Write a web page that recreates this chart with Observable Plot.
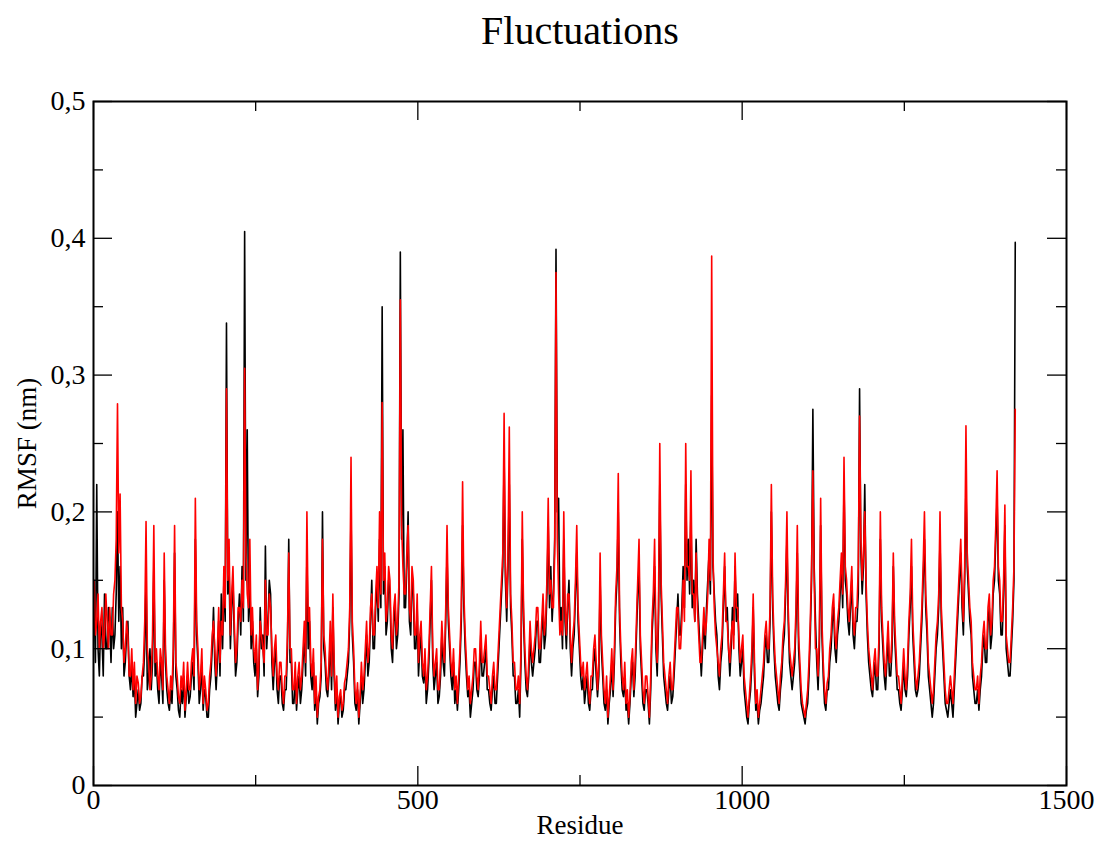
<!DOCTYPE html>
<html><head><meta charset="utf-8">
<script src="https://cdn.jsdelivr.net/npm/d3@7"></script>
<script src="https://cdn.jsdelivr.net/npm/@observablehq/plot@0.6"></script>
<style>body{margin:0;background:#fff}</style>
</head><body><div id="chart"></div>
<script>
// Residue numbering of the sampled points (every 2nd residue, starting at 1)
const residueStart = 1;
const residueStep = 2;

// RMSF (nm), black series
const rmsfBlack = [
.13,.09,.22,.10,.08,.12,.11,.08,.14,.10,.10,.13,.12,.09,.13,.10,.11,.14,.20,.12,
.16,.10,.13,.08,.09,.11,.12,.08,.07,.09,.065,.08,.05,.06,.07,.055,.06,.08,.08,.10,
.15,.07,.08,.10,.07,.09,.16,.08,.09,.07,.06,.09,.08,.06,.15,.09,.07,.06,.055,.07,
.06,.09,.17,.08,.07,.055,.05,.07,.06,.08,.05,.065,.08,.06,.065,.08,.09,.07,.18,.11,
.09,.06,.07,.09,.055,.07,.065,.05,.05,.07,.08,.10,.13,.09,.07,.09,.12,.08,.14,.10,
.15,.12,.338,.14,.16,.10,.13,.15,.11,.08,.09,.12,.14,.11,.16,.12,.405,.15,.26,.12,
.15,.10,.12,.09,.08,.10,.065,.08,.13,.10,.11,.08,.175,.10,.12,.15,.14,.09,.07,.09,
.10,.07,.06,.08,.08,.06,.055,.07,.07,.10,.18,.09,.09,.06,.06,.08,.055,.07,.08,.06,
.07,.09,.11,.08,.17,.10,.12,.08,.07,.09,.055,.07,.045,.06,.065,.08,.20,.10,.09,.07,
.065,.08,.11,.07,.13,.08,.055,.07,.045,.06,.065,.05,.055,.07,.07,.08,.09,.12,.20,.11,
.09,.06,.055,.07,.045,.06,.08,.06,.07,.09,.11,.08,.09,.12,.15,.10,.10,.13,.15,.12,
.18,.13,.35,.14,.16,.11,.12,.15,.14,.10,.09,.12,.13,.10,.11,.14,.39,.18,.26,.13,
.13,.16,.20,.12,.11,.15,.14,.10,.10,.13,.08,.10,.11,.08,.075,.09,.06,.07,.09,.12,
.15,.09,.07,.08,.09,.06,.065,.08,.11,.09,.08,.12,.17,.12,.10,.08,.07,.09,.06,.07,
.055,.07,.09,.12,.19,.13,.10,.08,.065,.07,.05,.06,.07,.09,.09,.07,.065,.08,.11,.08,
.08,.09,.10,.07,.07,.06,.055,.07,.08,.06,.06,.08,.10,.12,.14,.16,.24,.15,.12,.16,
.22,.13,.11,.08,.08,.06,.06,.07,.05,.09,.18,.12,.09,.07,.065,.08,.11,.09,.08,.09,
.10,.12,.12,.09,.09,.11,.13,.10,.11,.14,.19,.13,.16,.12,.14,.18,.392,.20,.21,.12,
.13,.10,.18,.12,.10,.13,.15,.10,.08,.10,.11,.14,.17,.12,.10,.08,.07,.08,.06,.07,
.08,.06,.055,.07,.07,.09,.10,.08,.065,.08,.15,.10,.08,.06,.055,.07,.045,.06,.07,.09,
.065,.09,.13,.15,.20,.12,.09,.07,.065,.08,.055,.06,.045,.06,.08,.09,.065,.08,.11,.14,
.16,.10,.08,.06,.055,.07,.07,.06,.045,.07,.11,.13,.16,.10,.08,.12,.22,.14,.11,.08,
.07,.06,.055,.07,.08,.06,.065,.08,.10,.12,.14,.11,.11,.13,.16,.13,.22,.15,.18,.14,
.20,.13,.15,.12,.18,.14,.12,.10,.08,.10,.12,.10,.13,.15,.17,.14,.285,.16,.14,.12,
.11,.08,.07,.09,.10,.13,.16,.12,.13,.10,.08,.10,.13,.11,.16,.12,.14,.10,.08,.09,
.10,.07,.06,.05,.045,.06,.07,.09,.13,.08,.055,.06,.045,.055,.06,.07,.08,.10,.11,.09,
.09,.12,.20,.13,.10,.08,.07,.06,.055,.07,.08,.10,.11,.14,.18,.12,.09,.08,.07,.08,
.09,.12,.17,.10,.08,.06,.055,.05,.045,.055,.06,.08,.11,.15,.275,.16,.12,.09,.07,.10,
.19,.11,.08,.06,.055,.07,.07,.09,.10,.12,.13,.10,.09,.11,.12,.14,.16,.13,.22,.15,
.14,.12,.11,.13,.15,.11,.10,.12,.12,.14,.29,.17,.14,.16,.22,.14,.11,.09,.08,.07,
.065,.08,.09,.07,.07,.10,.18,.12,.10,.08,.07,.09,.11,.08,.08,.10,.16,.11,.09,.07,
.07,.06,.055,.07,.09,.07,.065,.08,.11,.13,.16,.11,.09,.07,.065,.07,.08,.10,.12,.15,
.18,.13,.11,.08,.07,.06,.05,.06,.08,.10,.11,.13,.18,.12,.10,.08,.06,.055,.05,.06,
.07,.06,.05,.07,.09,.11,.13,.15,.17,.13,.11,.15,.22,.16,.14,.12,.11,.08,.07,.06,
.06,.07,.055,.07,.08,.10,.11,.09,.09,.12,.13,.10,.11,.14,.15,.18,.21,.15,.14,.11,
.11,.14,.19,.10,.09,.08,.08,.10,.12,.15,.397
];

// RMSF (nm), red series
const rmsfRed = [
.15,.11,.12,.14,.10,.12,.13,.10,.11,.14,.12,.10,.13,.11,.11,.14,.15,.18,.279,.17,
.213,.13,.12,.09,.10,.12,.11,.08,.08,.10,.07,.09,.06,.08,.075,.06,.065,.08,.09,.12,
.193,.10,.09,.07,.08,.11,.19,.09,.10,.08,.07,.10,.09,.07,.17,.10,.08,.07,.06,.08,
.07,.10,.19,.09,.08,.065,.06,.08,.07,.09,.055,.07,.09,.07,.07,.09,.10,.08,.21,.12,
.10,.07,.08,.10,.06,.08,.07,.055,.06,.08,.09,.11,.12,.10,.08,.10,.13,.09,.12,.11,
.16,.13,.29,.15,.18,.11,.14,.16,.12,.09,.10,.13,.13,.12,.15,.13,.305,.17,.14,.13,
.18,.11,.13,.10,.09,.11,.07,.09,.12,.11,.10,.09,.15,.11,.11,.14,.13,.10,.08,.10,
.11,.08,.07,.09,.09,.07,.06,.08,.08,.11,.17,.10,.10,.07,.07,.09,.06,.08,.09,.07,
.08,.10,.12,.09,.20,.12,.13,.09,.08,.10,.06,.08,.05,.065,.07,.09,.18,.11,.10,.08,
.07,.09,.12,.08,.14,.09,.06,.08,.05,.065,.07,.055,.06,.075,.08,.09,.10,.13,.24,.12,
.10,.07,.06,.075,.05,.065,.09,.07,.08,.10,.12,.09,.10,.13,.14,.11,.11,.14,.16,.13,
.20,.14,.28,.15,.17,.12,.13,.16,.15,.11,.10,.13,.14,.11,.12,.15,.355,.19,.16,.14,
.14,.17,.19,.13,.12,.16,.15,.11,.11,.14,.09,.11,.12,.09,.08,.10,.07,.08,.10,.13,
.16,.10,.08,.09,.10,.07,.07,.09,.12,.10,.09,.13,.19,.13,.11,.09,.08,.10,.07,.08,
.06,.08,.10,.13,.222,.14,.11,.09,.07,.08,.06,.07,.08,.10,.10,.08,.07,.09,.12,.09,
.09,.10,.11,.08,.08,.07,.06,.08,.09,.07,.07,.09,.11,.13,.15,.17,.272,.16,.13,.17,
.262,.14,.12,.09,.09,.07,.07,.08,.06,.10,.20,.13,.10,.08,.07,.09,.12,.10,.09,.10,
.11,.13,.13,.10,.10,.12,.14,.11,.12,.15,.21,.14,.15,.13,.13,.17,.375,.18,.14,.11,
.12,.11,.20,.13,.11,.14,.14,.11,.09,.11,.12,.15,.19,.13,.11,.09,.08,.09,.07,.08,
.09,.07,.06,.08,.08,.10,.11,.09,.07,.09,.17,.11,.09,.07,.06,.08,.05,.065,.08,.10,
.07,.10,.14,.16,.228,.13,.10,.08,.07,.09,.06,.07,.05,.065,.09,.10,.07,.09,.12,.15,
.18,.11,.09,.07,.06,.08,.08,.065,.05,.08,.12,.14,.18,.11,.09,.13,.25,.15,.12,.09,
.08,.07,.06,.08,.09,.07,.07,.09,.11,.13,.13,.10,.10,.12,.15,.12,.25,.16,.16,.15,
.23,.14,.14,.12,.17,.13,.11,.09,.09,.11,.13,.11,.12,.14,.18,.15,.387,.17,.13,.11,
.10,.09,.08,.10,.11,.14,.17,.12,.12,.10,.09,.11,.12,.10,.17,.13,.13,.11,.09,.10,
.11,.08,.07,.06,.05,.065,.08,.10,.14,.09,.06,.07,.05,.06,.07,.08,.09,.11,.12,.10,
.10,.13,.22,.14,.11,.09,.08,.07,.06,.08,.09,.11,.12,.15,.20,.13,.10,.09,.08,.09,
.10,.13,.19,.11,.09,.07,.06,.055,.05,.06,.07,.09,.12,.16,.23,.15,.10,.10,.08,.11,
.21,.12,.09,.07,.06,.075,.08,.10,.11,.13,.14,.11,.10,.12,.13,.15,.17,.14,.24,.16,
.15,.13,.12,.14,.16,.12,.11,.13,.13,.16,.27,.18,.15,.17,.20,.15,.12,.10,.09,.08,
.07,.09,.10,.08,.08,.11,.20,.13,.11,.09,.08,.10,.12,.09,.09,.11,.17,.12,.10,.08,
.08,.07,.06,.08,.10,.08,.07,.09,.12,.14,.18,.12,.10,.08,.07,.08,.09,.11,.13,.16,
.20,.14,.12,.09,.08,.07,.06,.07,.09,.11,.12,.14,.20,.13,.11,.09,.07,.06,.06,.07,
.08,.07,.06,.08,.10,.12,.14,.16,.18,.14,.12,.16,.263,.17,.15,.13,.12,.09,.08,.07,
.07,.08,.06,.08,.09,.11,.12,.10,.10,.13,.14,.11,.12,.15,.16,.19,.23,.16,.15,.12,
.12,.15,.205,.11,.10,.09,.09,.11,.13,.16,.275
];

const xTicks = [0, 500, 1000, 1500];
const xMinorTicks = [250, 750, 1250];
const yTicks = [0, 0.1, 0.2, 0.3, 0.4, 0.5];
const yMinorTicks = [0.05, 0.15, 0.25, 0.35, 0.45];
const titleText = "Fluctuations";
const xLabel = "Residue";
const yLabel = "RMSF (nm)";

const toRows = arr => arr.map((v, i) => ({residue: residueStart + i * residueStep, rmsf: v}));
const blackData = toRows(rmsfBlack);
const redData = toRows(rmsfRed);

const W = 1101, H = 848, mL = 93, mR = 35, mT = 101, mB = 63;
const fw = W - mL - mR, fh = H - mT - mB;
const major = 19, minor = 10;
const font = "'Liberation Serif', 'Times New Roman', serif";

const chart = Plot.plot({
  width: W, height: H,
  marginLeft: mL, marginRight: mR, marginTop: mT, marginBottom: mB,
  style: {fontFamily: font, background: "#fff", color: "#000"},
  x: {domain: [0, 1500]},
  y: {domain: [0, 0.5]},
  marks: [
    Plot.lineY(blackData, {x: "residue", y: "rmsf", stroke: "#000", strokeWidth: 1.6}),
    Plot.lineY(redData, {x: "residue", y: "rmsf", stroke: "#ff0000", strokeWidth: 1.6}),
    Plot.ruleX(xTicks, {x: d => d, insetTop: fh - major, strokeWidth: 1.3}),
    Plot.ruleX(xTicks, {x: d => d, insetBottom: fh - major, strokeWidth: 1.3}),
    Plot.ruleX(xMinorTicks, {x: d => d, insetTop: fh - minor, strokeWidth: 1.3}),
    Plot.ruleX(xMinorTicks, {x: d => d, insetBottom: fh - minor, strokeWidth: 1.3}),
    Plot.ruleY(yTicks, {y: d => d, insetRight: fw - major, strokeWidth: 1.3}),
    Plot.ruleY(yTicks, {y: d => d, insetLeft: fw - major, strokeWidth: 1.3}),
    Plot.ruleY(yMinorTicks, {y: d => d, insetRight: fw - minor, strokeWidth: 1.3}),
    Plot.ruleY(yMinorTicks, {y: d => d, insetLeft: fw - minor, strokeWidth: 1.3}),
    Plot.frame({stroke: "#000", strokeWidth: 2}),
    Plot.axisX(xTicks, {tickSize: 0, tickPadding: 4, fontSize: 28, label: null, tickFormat: d => String(d)}),
    Plot.axisY(yTicks, {tickSize: 0, tickPadding: 8, fontSize: 28, label: null, tickFormat: d => String(d).replace(".", ",")}),
    Plot.text([titleText], {frameAnchor: "top", dy: -58, fontSize: 40, lineAnchor: "bottom"}),
    Plot.text([xLabel], {frameAnchor: "bottom", dy: 48, fontSize: 27}),
    Plot.text([yLabel], {frameAnchor: "left", dx: -66, fontSize: 27, rotate: -90, textAnchor: "middle"})
  ]
});
document.getElementById("chart").appendChild(chart);
</script>
</body></html>
